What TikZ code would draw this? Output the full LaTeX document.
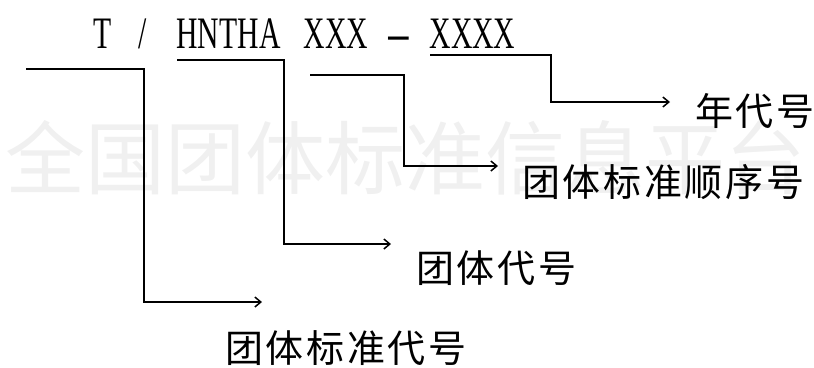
\documentclass[tikz,border=0pt]{standalone}
\usepackage{fontspec}
\newfontfamily\cjk{Noto Sans CJK SC}
\newfontfamily\cjkspaced[LetterSpace=7]{Noto Sans CJK SC}
\newfontfamily\titlefont[FakeStretch=0.66]{Liberation Serif}
\newfontfamily\dashfont[FakeStretch=1.9]{Liberation Serif}
\usetikzlibrary{arrows.meta}
\begin{document}
\begin{tikzpicture}[x=1pt,y=-1pt,
  conn/.style={line width=1.5pt, -{Straight Barb[length=6pt,width=10pt]}},
  lab/.style={anchor=west, inner sep=0pt, font=\cjkspaced\fontsize{38}{38}\selectfont},
  wmark/.style={anchor=west, inner sep=0pt, text=black!6, font=\cjk\fontsize{80}{80}\selectfont},
  ttl/.style={anchor=base, inner sep=0pt, font=\titlefont\fontsize{45}{45}\selectfont}
  ]
\useasboundingbox (0,0) rectangle (814,367);
\node[wmark] (wm) at (5,158) {全国团体标准信息平台};

\node[ttl] (tT) at (102.5,48) {T};
\node[ttl] (tslash) at (142.5,48) {/};
\node[ttl] (torg) at (228.5,48) {HNTHA};
\node[ttl] (tseq) at (336,48) {XXX};
\node[ttl, font=\dashfont\fontsize{42}{42}\selectfont] (tdash) at (399,48) {-};
\node[ttl] (tyear) at (472.5,48) {XXXX};

\node[lab] (year) at (695,111) {年代号};
\node[lab] (seq) at (522,182) {团体标准顺序号};
\node[lab] (org) at (416,268) {团体代号};
\node[lab] (std) at (225,348) {团体标准代号};

% connector 1
\coordinate (s1) at (26,69);
\coordinate (e1) at (262,302);
\draw[conn] (s1) -- (144,69) |- (e1);
% connector 2
\coordinate (s2) at (177,60);
\coordinate (e2) at (391,244);
\draw[conn] (s2) -- (284,60) |- (e2);
% connector 3
\coordinate (s3) at (310,75);
\coordinate (e3) at (498,166);
\draw[conn] (s3) -- (404,75) |- (e3);
% connector 4
\coordinate (s4) at (430,55);
\coordinate (e4) at (670,102);
\draw[conn] (s4) -- (551,55) |- (e4);
\end{tikzpicture}
\end{document}
